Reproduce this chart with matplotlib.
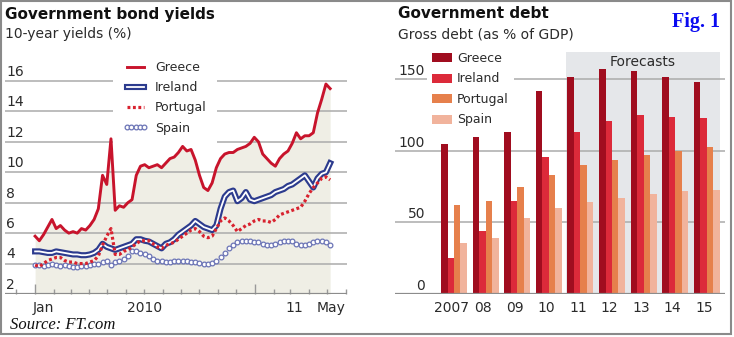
import matplotlib
matplotlib.use("Agg")
import numpy as np
import pandas as pd
import matplotlib.pyplot as plt
import matplotlib.dates as mdates
import matplotlib.patheffects as pe
from matplotlib.patches import Rectangle

# --- bond yields, weekly from 1 Jan 2010 (%)
greece = [5.8, 5.5, 5.9, 6.4, 6.9, 6.3, 6.5, 6.2, 6.0, 6.1, 6.0, 6.3, 6.2, 6.5, 6.9,
          7.6, 9.8, 9.2, 12.2, 7.5, 7.8, 7.7, 8.0, 8.2, 9.8, 10.4, 10.5, 10.3, 10.4,
          10.5, 10.3, 10.6, 10.9, 11.0, 11.3, 11.7, 11.4, 11.5, 10.8, 9.8, 9.0, 8.8,
          9.3, 10.3, 10.9, 11.2, 11.3, 11.3, 11.5, 11.6, 11.7, 11.9, 12.3, 12.0, 11.2,
          10.9, 10.6, 10.4, 10.9, 11.2, 11.4, 11.9, 12.6, 12.2, 12.4, 12.4, 12.6, 13.9,
          14.8, 15.8, 15.5]
ireland = [4.8, 4.8, 4.75, 4.7, 4.7, 4.8, 4.75, 4.7, 4.65, 4.6, 4.6, 4.55, 4.55, 4.6,
           4.7, 4.9, 5.3, 5.1, 5.0, 4.9, 5.0, 5.1, 5.2, 5.3, 5.6, 5.6, 5.5, 5.45, 5.3,
           5.15, 5.0, 5.3, 5.4, 5.6, 5.9, 6.1, 6.3, 6.5, 6.8, 6.6, 6.4, 6.3, 6.2, 6.5,
           7.6, 8.4, 8.7, 8.8, 8.1, 8.3, 8.7, 8.2, 8.1, 8.2, 8.3, 8.4, 8.5, 8.7, 8.8,
           8.9, 9.1, 9.2, 9.4, 9.6, 9.8, 9.4, 9.0, 9.6, 9.9, 10.0, 10.6]
portugal = [3.9, 3.8, 4.0, 4.2, 4.3, 4.4, 4.4, 4.2, 4.1, 4.1, 4.0, 4.0, 4.0, 4.1, 4.2,
            4.5, 5.2, 5.8, 6.3, 4.6, 4.6, 4.8, 4.9, 5.1, 5.3, 5.5, 5.5, 5.5, 5.3, 5.1,
            5.0, 5.2, 5.3, 5.4, 5.6, 5.8, 6.0, 6.2, 6.3, 6.1, 5.8, 5.7, 5.8, 6.3, 6.8,
            7.0, 6.8, 6.5, 6.1, 6.3, 6.5, 6.6, 6.8, 6.9, 6.8, 6.8, 6.7, 6.9, 7.2, 7.3,
            7.4, 7.5, 7.6, 7.7, 8.1, 8.6, 9.0, 9.3, 9.6, 9.7, 9.5]
spain = [3.9, 3.9, 3.85, 3.9, 3.95, 3.9, 3.85, 3.9, 3.85, 3.8, 3.8, 3.85, 3.85, 3.9,
         3.95, 4.0, 4.1, 4.2, 3.9, 4.1, 4.2, 4.3, 4.5, 4.8, 4.8, 4.7, 4.6, 4.5, 4.3,
         4.2, 4.2, 4.1, 4.1, 4.15, 4.2, 4.2, 4.15, 4.1, 4.1, 4.05, 4.0, 4.0, 4.05,
         4.2, 4.4, 4.7, 5.0, 5.2, 5.4, 5.5, 5.5, 5.5, 5.45, 5.4, 5.3, 5.2, 5.2, 5.3,
         5.4, 5.5, 5.5, 5.5, 5.3, 5.2, 5.2, 5.3, 5.4, 5.5, 5.5, 5.4, 5.2]
dates = pd.date_range("2010-01-01", periods=len(greece), freq="7D")

# --- gross debt (% of GDP)
years = ["2007", "08", "09", "10", "11", "12", "13", "14", "15"]
debt_greece = [105, 110, 127, 142, 152, 157, 156, 152, 148]
debt_ireland = [25, 44, 65, 96, 113, 121, 125, 124, 123]
debt_portugal = [62, 65, 75, 83, 90, 94, 97, 100, 103]
debt_spain = [36, 39, 53, 60, 64, 67, 70, 72, 73]

W, H = 734, 337
fig = plt.figure(figsize=(W / 100, H / 100), dpi=100)
fig.patch.set_facecolor("white")
TXT = "#2b2b2b"


def px_axes(x0, y0, x1, y1):
    return fig.add_axes([x0 / W, 1 - y1 / H, (x1 - x0) / W, (y1 - y0) / H])


def ftext(x, y, s, **kw):
    fig.text(x / W, 1 - y / H, s, **kw)


# ---------------- left: bond yields
ax1 = px_axes(5, 60, 347, 294)
ax1.set_xlim(pd.Timestamp("2009-11-12"), pd.Timestamp("2011-06-03"))
ax1.set_ylim(2, 17.38)
for s in ax1.spines.values():
    s.set_visible(False)
ax1.set_yticks([])

ax1.fill_between(dates, greece, 2, color="#efeee5", lw=0, zorder=0)
for v in range(4, 17, 2):
    ax1.axhline(v, color="#ababab", lw=1.1, zorder=1)
ax1.axhline(2, color="#8c8c8c", lw=1.6, zorder=2)
for v in range(2, 17, 2):
    ax1.text(0.003, v + 0.6, str(v), transform=ax1.get_yaxis_transform(),
             ha="left", va="center", fontsize=10, color=TXT)

ax1.plot(dates, greece, color="#c8142c", lw=2.1, zorder=5, label="Greece")
ax1.plot(dates, ireland, color="white", lw=1.3, zorder=4, label="Ireland",
         path_effects=[pe.Stroke(linewidth=4.4, foreground="#2c3b8e"), pe.Normal()])
ax1.plot(dates, portugal, color="#d8222f", lw=2.3, dashes=(0.9, 0.8), zorder=4,
         label="Portugal")
ax1.plot(dates, spain, ls="none", marker="o", ms=3.4, mfc="white", mec="#6b74b6",
         mew=0.9, zorder=3, label="Spain")

ax1.xaxis.set_major_locator(mdates.YearLocator())
ax1.xaxis.set_minor_locator(mdates.MonthLocator())
ax1.xaxis.set_major_formatter(plt.NullFormatter())
ax1.tick_params(axis="x", which="major", direction="in", length=7, width=1,
                color="#999999", bottom=True)
ax1.tick_params(axis="x", which="minor", direction="in", length=3.8, width=1,
                color="#999999", bottom=True)
xt = ax1.get_xaxis_transform()
for d, lab in [("2010-01-14", "Jan"), ("2010-07-02", "2010"),
               ("2011-03-07", "11"), ("2011-05-08", "May")]:
    ax1.text(pd.Timestamp(d), -0.058, lab, transform=xt, ha="center", va="center",
             fontsize=10, color=TXT)

leg1 = ax1.legend(loc="upper left", bbox_to_anchor=(113 / W, 1 - 51 / H),
                  bbox_transform=fig.transFigure, borderaxespad=0, borderpad=0.8,
                  frameon=True, fancybox=False, edgecolor="none", framealpha=1,
                  facecolor="white", fontsize=9, handlelength=2.0,
                  handletextpad=0.55, labelspacing=0.58, numpoints=5)
for t in leg1.get_texts():
    t.set_color(TXT)
leg1.set_zorder(10)

ftext(5, 14, "Government bond yields", fontsize=11, fontweight="bold",
      color="#111111", ha="left", va="center")
ftext(5, 34, "10-year yields (%)", fontsize=10, color=TXT, ha="left", va="center")

# ---------------- right: government debt
ax2 = px_axes(395, 52, 725, 294)
ax2.set_xlim(-1.867, 8.576)
ax2.set_ylim(0, 169.2)
for s in ax2.spines.values():
    s.set_visible(False)
ax2.set_xticks([])
ax2.set_yticks([])

ax2.axvspan(3.544, 8.418, color="#e5e7ea", lw=0, zorder=0)
ax2.text(5.98, 162, "Forecasts", ha="center", va="center", fontsize=10, color=TXT)
for v in (50, 100, 150):
    ax2.axhline(v, color="#ababab", lw=1.1, zorder=1)
ax2.axhline(0, color="#8c8c8c", lw=1.6, zorder=4)
for v in (0, 50, 100, 150):
    ax2.text(-0.918, v + 5.9, str(v), ha="right", va="center", fontsize=10, color=TXT)

x = np.arange(len(years))
bw = 0.205
series = [("Greece", debt_greece, "#a00d1f"), ("Ireland", debt_ireland, "#dc2a3a"),
          ("Portugal", debt_portugal, "#e6804c"), ("Spain", debt_spain, "#f1b39c")]
for i, (name, vals, col) in enumerate(series):
    ax2.bar(x + (i - 1.5) * bw, vals, width=bw, color=col, lw=0, zorder=3, label=name)
for xi, lab in zip(x, years):
    ax2.text(xi - 0.08, -0.057, lab, transform=ax2.get_xaxis_transform(),
             ha="center", va="center", fontsize=10, color=TXT)

leg2 = ax2.legend(loc="upper left", bbox_to_anchor=(427 / W, 1 - 47 / H),
                  bbox_transform=fig.transFigure, borderaxespad=0, borderpad=0.4,
                  frameon=True, fancybox=False, edgecolor="none", framealpha=1,
                  facecolor="white", fontsize=9, handlelength=1.6, handleheight=0.7,
                  handletextpad=0.4, labelspacing=0.6)
for t in leg2.get_texts():
    t.set_color(TXT)
leg2.set_zorder(10)

ftext(398, 14, "Government debt", fontsize=11, fontweight="bold",
      color="#111111", ha="left", va="center")
ftext(398, 34, "Gross debt (as % of GDP)", fontsize=10, color=TXT, ha="left",
      va="center")

ftext(696, 22, "Fig. 1", fontsize=14.5, fontweight="bold", color="#0a0af0",
      family="Liberation Serif", ha="center", va="center")
ftext(10, 325, "Source: FT.com", fontsize=12, style="italic", color="#111111",
      family="Liberation Serif", ha="left", va="center")

fig.patches.append(Rectangle((1 / W, 3 / H), 730 / W, 333 / H, transform=fig.transFigure,
                             fill=False, ec="#8a8a8a", lw=1.5, zorder=20))

fig.savefig("out.png", dpi=100)
